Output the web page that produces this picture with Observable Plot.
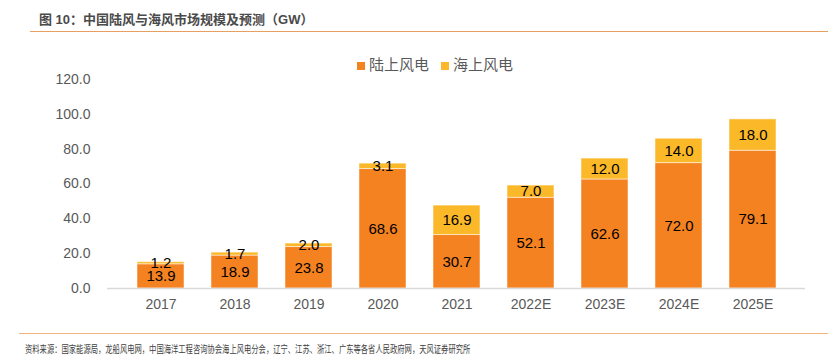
<!DOCTYPE html>
<html><head><meta charset="utf-8">
<script src="https://cdn.jsdelivr.net/npm/d3@7"></script>
<script src="https://cdn.jsdelivr.net/npm/@observablehq/plot@0.6"></script>
<style>
body{margin:0;background:#fff;font-family:"Liberation Sans","Noto Sans CJK SC",sans-serif;}
#wrap{position:relative;width:828px;height:360px;overflow:hidden;}
#title{position:absolute;left:39px;top:9px;font-size:13px;font-weight:bold;color:#4a4a4a;font-family:"Liberation Sans","Noto Sans CJK SC";}
#tline{position:absolute;left:30px;top:31px;width:798px;height:0;border-top:1.3px solid #E8A060;}
#fline{position:absolute;left:19px;top:333px;width:809px;height:0;border-top:1.3px solid #F5B47A;}
#foot{position:absolute;left:25px;top:341px;font-size:10px;color:#404040;font-family:"Noto Sans CJK SC";transform:scaleX(0.73);transform-origin:0 0;white-space:nowrap;}
#legend{position:absolute;top:53px;left:357px;font-size:15px;color:#595959;font-family:"Noto Sans CJK SC";display:flex;gap:12px;align-items:center;}
#legend span.sw{display:inline-block;width:8px;height:8px;margin-right:4px;vertical-align:middle;}
#chart{position:absolute;left:0;top:0;}
</style></head>
<body><div id="wrap">
<div id="chart"></div>
<div id="title">图 10：中国陆风与海风市场规模及预测（GW）</div>
<div id="tline"></div>
<div id="legend"></div>
<div id="fline"></div>
<div id="foot">资料来源：国家能源局，龙船风电网，中国海洋工程咨询协会海上风电分会，辽宁、江苏、浙江、广东等各省人民政府网，天风证券研究所</div>
</div>
<script>
const years = ["2017","2018","2019","2020","2021","2022E","2023E","2024E","2025E"];
const onshore = [13.9,18.9,23.8,68.6,30.7,52.1,62.6,72.0,79.1];
const offshore = [1.2,1.7,2.0,3.1,16.9,7.0,12.0,14.0,18.0];
const seriesNames = ["陆上风电","海上风电"];
const seriesColors = ["#F58220","#FBB829"];
const yTicks = [0,20,40,60,80,100,120];

const data = [];
years.forEach((y,i)=>{
  data.push({year:y, series:seriesNames[0], value:onshore[i]});
  data.push({year:y, series:seriesNames[1], value:offshore[i]});
});

const plot = Plot.plot({
  width:828, height:360,
  marginLeft:107, marginRight:23, marginTop:79, marginBottom:72,
  style:{fontFamily:"Liberation Sans, Arial, sans-serif", fontSize:"14px", color:"#595959", background:"transparent"},
  x:{domain:years, padding:0.37, label:null},
  y:{domain:[0,120], label:null},
  color:{domain:seriesNames, range:seriesColors},
  marks:[
    Plot.barY(data, Plot.stackY({x:"year", y:"value", fill:"series", order:seriesNames, stroke:"#fff", strokeOpacity:0.5, strokeWidth:1})),
    Plot.ruleY([0], {stroke:"#D9D9D9", strokeWidth:1.5}),
    Plot.text(data, Plot.stackY({x:"year", y:"value", z:"series", order:seriesNames, text:d=>d.value.toFixed(1), fill:"#000", fontSize:15})),
    Plot.axisY({ticks:yTicks, tickFormat:d=>d.toFixed(1), tickSize:0, tickPadding:17, fontSize:14}),
    Plot.axisX({tickSize:0, tickPadding:11, fontSize:14})
  ]
});
document.getElementById("chart").appendChild(plot);

const lg = document.getElementById("legend");
seriesNames.forEach((n,i)=>{
  const d = document.createElement("div");
  d.innerHTML = `<span class="sw" style="background:${seriesColors[i]}"></span>${n}`;
  lg.appendChild(d);
});
</script>
</body></html>
